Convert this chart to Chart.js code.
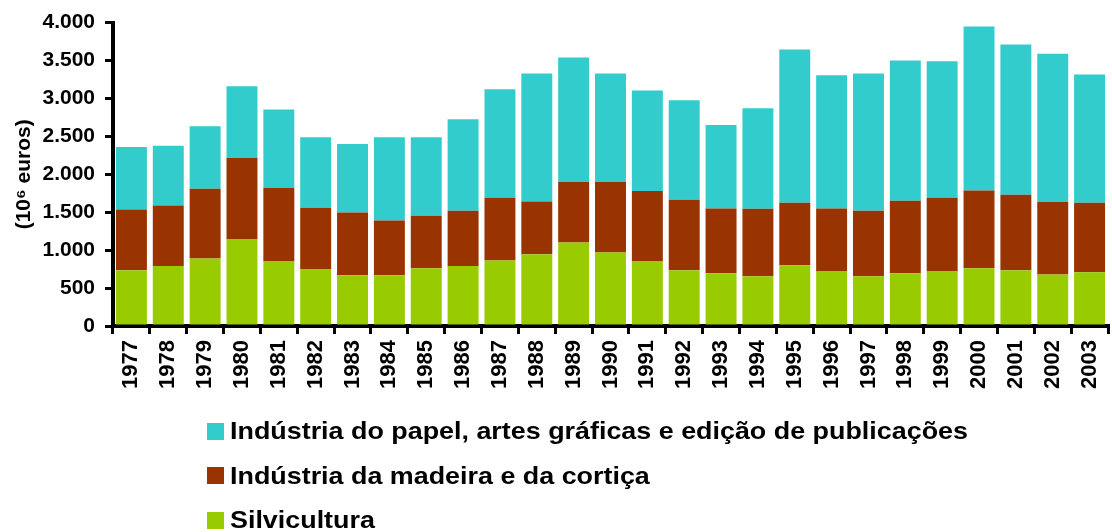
<!DOCTYPE html>
<html>
<head>
<meta charset="utf-8">
<script src="https://cdn.jsdelivr.net/npm/chart.js@4"></script>
<style>
  body { margin: 0; background: #fff; }
  #wrap { position: relative; width: 1112px; height: 532px; overflow: hidden; }
  #chartBox { position: absolute; left: 0; top: 0; width: 1122px; height: 410px; }
  #legenda { position: absolute; left: 207px; top: 409px; font: bold 24px "Liberation Sans", Arial, sans-serif; color: #000; }
  .item { height: 44.5px; display: flex; align-items: center; }
  .caixa { width: 17px; height: 17px; margin-right: 6px; flex: none; }
  .texto { display: inline-block; transform: scaleX(1.12); transform-origin: left center; white-space: nowrap; }
</style>
</head>
<body>
<div id="wrap">
  <div id="chartBox"><canvas id="grafico"></canvas></div>
  <div id="legenda"></div>
</div>
<script>
// anos e valores (10^6 euros)
var anos = ['1977','1978','1979','1980','1981','1982','1983','1984','1985','1986','1987','1988','1989','1990',
            '1991','1992','1993','1994','1995','1996','1997','1998','1999','2000','2001','2002','2003'];
var silvicultura = [735, 790, 890, 1140, 850, 750, 670, 670, 760, 790, 865, 945, 1100, 970,
                    850, 735, 695, 655, 800, 720, 655, 695, 720, 760, 735, 680, 710];
var madeira = [800, 800, 920, 1075, 970, 810, 825, 720, 695, 730, 825, 695, 800, 930,
               930, 930, 855, 890, 825, 830, 865, 955, 970, 1025, 995, 955, 915];
var papel = [825, 785, 825, 945, 1035, 930, 905, 1100, 1035, 1205, 1430, 1690, 1640, 1430,
             1325, 1310, 1100, 1325, 2020, 1755, 1810, 1850, 1800, 2165, 1980, 1955, 1690];
var yTicks = [0, 500, 1000, 1500, 2000, 2500, 3000, 3500, 4000];

var nomes = ['Silvicultura', 'Indústria da madeira e da cortiça', 'Indústria do papel, artes gráficas e edição de publicações'];
var cores = ['#99CC00', '#993300', '#33CCCC'];

var fonte = 'Liberation Sans, Arial, sans-serif';

function formatar(v) {
    return v.toString().replace(/\B(?=(\d{3})+(?!\d))/g, '.');
}

var ctx = document.getElementById('grafico').getContext('2d');
var myChart = new Chart(ctx, {
    type: 'bar',
    data: {
        labels: anos,
        datasets: [
            { label: nomes[0], data: silvicultura, backgroundColor: cores[0] },
            { label: nomes[1], data: madeira, backgroundColor: cores[1] },
            { label: nomes[2], data: papel, backgroundColor: cores[2] }
        ]
    },
    options: {
        responsive: true,
        maintainAspectRatio: false,
        animation: false,
        layout: { padding: { top: 8, right: 1, left: 0, bottom: 0 } },
        datasets: { bar: { barPercentage: 0.84, categoryPercentage: 1.0 } },
        plugins: {
            legend: { display: false },
            tooltip: { enabled: false }
        },
        scales: {
            x: {
                stacked: true,
                offset: true,
                border: { color: '#000', width: 4 },
                grid: { offset: true, drawOnChartArea: false, drawTicks: true, tickLength: 8, color: '#000', lineWidth: 3 },
                ticks: {
                    color: '#000', font: { family: fonte, size: 22, weight: 'bold' },
                    maxRotation: 90, minRotation: 90, padding: 6, autoSkip: false
                },
                afterFit: function (scale) { scale.height = 84; }
            },
            y: {
                stacked: true,
                min: 0,
                max: 4000,
                afterBuildTicks: function (scale) { scale.ticks = yTicks.map(function (v) { return { value: v }; }); },
                border: { color: '#000', width: 4 },
                grid: { drawOnChartArea: false, drawTicks: true, tickLength: 8, color: '#000', lineWidth: 3 },
                ticks: {
                    color: '#000', font: { family: fonte, size: 21, weight: 'bold' }, padding: 10,
                    callback: function (v) { return formatar(v); }
                },
                title: {
                    display: true, text: '(10⁶ euros)', color: '#000',
                    font: { family: fonte, size: 21, weight: 'bold' }, padding: { top: 12, bottom: 0 }
                },
                afterFit: function (scale) { scale.width = 113; }
            }
        }
    }
});

// legenda em coluna, na ordem inversa das séries
var legenda = document.getElementById('legenda');
for (var i = nomes.length - 1; i >= 0; i--) {
    var item = document.createElement('div');
    item.className = 'item';
    var caixa = document.createElement('span');
    caixa.className = 'caixa';
    caixa.style.background = cores[i];
    var txt = document.createElement('span');
    txt.className = 'texto';
    txt.textContent = nomes[i];
    item.appendChild(caixa);
    item.appendChild(txt);
    legenda.appendChild(item);
}
</script>
</body>
</html>
